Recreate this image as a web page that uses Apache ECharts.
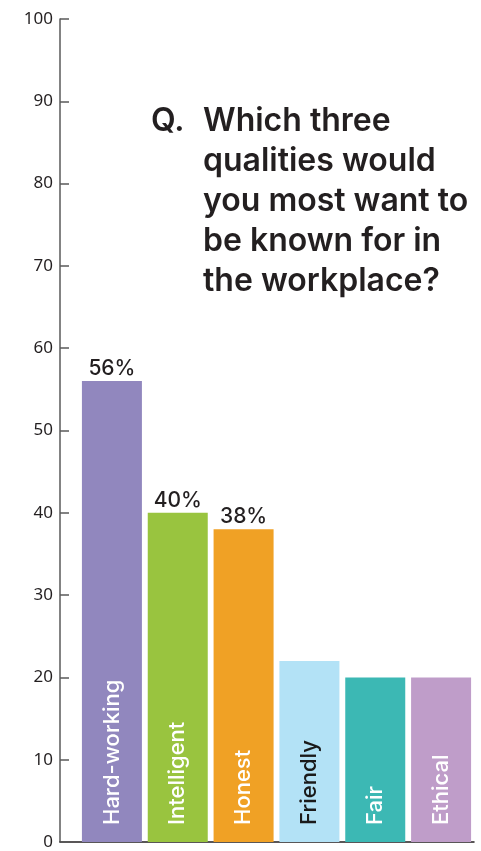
<!DOCTYPE html>
<html>
<head>
<meta charset="utf-8">
<script src="https://cdn.jsdelivr.net/npm/echarts@6/dist/echarts.min.js"></script>
<style>
  html, body { margin: 0; padding: 0; background: #ffffff; }
  #chart { width: 481px; height: 851px; }
</style>
</head>
<body>
<div id="chart"></div>
<script>
// Survey answers: share of respondents choosing each quality (%)
const categories = ['Hard-working', 'Intelligent', 'Honest', 'Friendly', 'Fair', 'Ethical'];
const shares = [56, 40, 38, 22, 20, 20];
const percentShown = ['Hard-working', 'Intelligent', 'Honest'];
const yTicks = [0, 10, 20, 30, 40, 50, 60, 70, 80, 90, 100];

const palette = ['#9187be', '#99c43f', '#f0a125', '#b3e2f6', '#3cb8b4', '#bf9dc9'];
const nameColors = ['#ffffff', '#ffffff', '#ffffff', '#1a1a1a', '#ffffff', '#ffffff'];

const chart = echarts.init(document.getElementById('chart'), null, { renderer: 'canvas' });

const headFont = 'Inter, "Noto Sans", sans-serif';
const axisFont = '"Noto Sans", "Open Sans", sans-serif';

chart.setOption({
  backgroundColor: '#ffffff',
  animation: false,
  title: [
    {
      text: 'Q.',
      left: 146, top: 96,
      textStyle: { fontFamily: headFont, fontSize: 32, fontWeight: 600, color: '#231f20', lineHeight: 40 }
    },
    {
      text: 'Which three\nqualities would\nyou most want to\nbe known for in\nthe workplace?',
      left: 198, top: 96,
      textStyle: { fontFamily: headFont, fontSize: 32, fontWeight: 600, color: '#231f20', lineHeight: 40 }
    }
  ],
  grid: [
    { left: 79, right: 7, top: 19, bottom: 9 },
    { left: 60, right: 7, top: 19, bottom: 9 }
  ],
  xAxis: [
    {
      type: 'category', gridIndex: 0, data: categories,
      axisLine: { show: false }, axisTick: { show: false }, axisLabel: { show: false }
    },
    {
      type: 'value', gridIndex: 1, min: 0, max: 1,
      axisLine: { show: true, lineStyle: { color: '#231f20', width: 1.5 } },
      axisTick: { show: false }, axisLabel: { show: false }, splitLine: { show: false }
    }
  ],
  yAxis: [
    {
      type: 'value', gridIndex: 0, min: yTicks[0], max: yTicks[yTicks.length - 1], interval: 10,
      offset: 19,
      axisLine: { show: true, lineStyle: { color: '#5a5a5a', width: 1.5 } },
      axisTick: { show: true, inside: true, length: 9, lineStyle: { color: '#5a5a5a', width: 1.5 } },
      axisLabel: { margin: 7, fontFamily: axisFont, fontSize: 17, color: '#231f20' },
      splitLine: { show: false }
    },
    { type: 'value', gridIndex: 1, min: 0, max: 1, show: false }
  ],
  series: [
    {
      type: 'bar', xAxisIndex: 0, yAxisIndex: 0,
      barWidth: 60,
      data: shares.map((v, i) => ({
        value: v,
        itemStyle: { color: palette[i] }
      })),
      label: {
        show: true,
        position: 'top',
        distance: 2,
        fontFamily: headFont, fontSize: 21, fontWeight: 500, color: '#231f20',
        formatter: p => percentShown.includes(p.name) ? p.value + '%' : ''
      },
      z: 3
    },
    {
      // category names written up the inside of each bar
      type: 'bar', xAxisIndex: 0, yAxisIndex: 0,
      barWidth: 60, barGap: '-100%',
      data: shares.map((v, i) => ({
        value: v,
        itemStyle: { color: 'rgba(0,0,0,0)' },
        label: { color: nameColors[i] }
      })),
      label: {
        show: true,
        position: 'insideBottom',
        rotate: 90,
        align: 'left',
        verticalAlign: 'middle',
        distance: 17,
        fontFamily: headFont, fontSize: 22, fontWeight: 500,
        formatter: p => p.name
      },
      z: 4,
      silent: true
    }
  ]
});
</script>
</body>
</html>
